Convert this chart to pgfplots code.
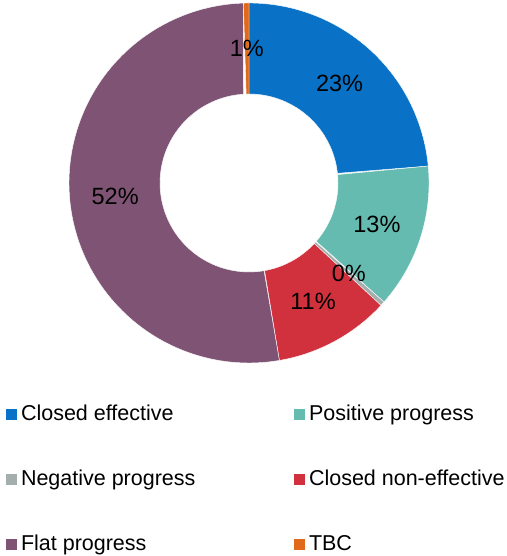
\documentclass[border=0pt]{standalone}
\usepackage{pgfplots}
\pgfplotsset{compat=1.18}
\usepackage{fontspec}
\setmainfont{Liberation Sans}
\definecolor{ceff}{HTML}{0A72C6}
\definecolor{ppos}{HTML}{66BBB0}
\definecolor{pneg}{HTML}{A3AEAD}
\definecolor{cnon}{HTML}{D1313D}
\definecolor{flat}{HTML}{7F5373}
\definecolor{tbc}{HTML}{E0691A}
\def\R{180}\def\r{89}\def\cx{249}\def\cy{373}\def\rl{134.5}
% slice: start cumulative %, end cumulative %, colour
\newcommand\slice[3]{%
  \edef\doslice{\noexpand\addplot[fill=#3, draw=white, line width=0.4pt, domain=0:2, samples=201]
   ({\cx+(x<=1 ? \R : \r)*cos(90-3.6*(x<=1 ? (#1+(#2-#1)*x) : (#2-(#2-#1)*(x-1))))},
    {\cy+(x<=1 ? \R : \r)*sin(90-3.6*(x<=1 ? (#1+(#2-#1)*x) : (#2-(#2-#1)*(x-1))))}) -- cycle;}%
  \doslice
}
% label: start %, end %, text
\newcommand\slicelabel[3]{%
  \pgfmathsetmacro\mid{90-3.6*(#1+#2)/2}%
  \edef\donode{\noexpand\node[font=\noexpand\fontsize{23.5}{28}\noexpand\selectfont] at (axis cs:{\cx+\rl*cos(\mid)},{\cy+\rl*sin(\mid)}) {#3};}%
  \donode
}
\begin{document}
\begin{tikzpicture}
\begin{axis}[
  width=506pt, height=556pt, scale only axis,
  xmin=0, xmax=506, ymin=0, ymax=556,
  hide axis, clip=false,
  legend columns=2,
  legend image code/.code={\fill[#1, draw=none] (0pt,-6.5pt) rectangle (11pt,4.5pt);},
  legend style={at={(axis cs:6,151)}, anchor=north west, draw=none, fill=none,
    inner sep=0pt, outer sep=0pt, column sep=4pt, row sep=48pt,
    font=\fontsize{21.5}{24}\selectfont, nodes={inner sep=0pt}},
  legend cell align=left,
]
\slice{0}{23.5}{ceff}
\slice{23.5}{36.5}{ppos}
\slice{36.5}{36.9}{pneg}
\slice{36.9}{47.3}{cnon}
\slice{47.3}{99.5}{flat}
\slice{99.5}{100}{tbc}
\slicelabel{0}{23.5}{23\%}
\slicelabel{23.5}{36.5}{13\%}
\slicelabel{36.5}{36.9}{0\%}
\slicelabel{36.9}{47.3}{11\%}
\slicelabel{47.3}{99.5}{52\%}
\slicelabel{99.5}{100}{1\%}
\legend{\makebox[269pt][l]{Closed effective}, Positive progress,
  \makebox[269pt][l]{Negative progress}, Closed non-effective,
  \makebox[269pt][l]{Flat progress}, TBC}
\end{axis}
\pgfresetboundingbox
\useasboundingbox (current axis.south west) rectangle (current axis.north east);
\end{tikzpicture}
\end{document}
